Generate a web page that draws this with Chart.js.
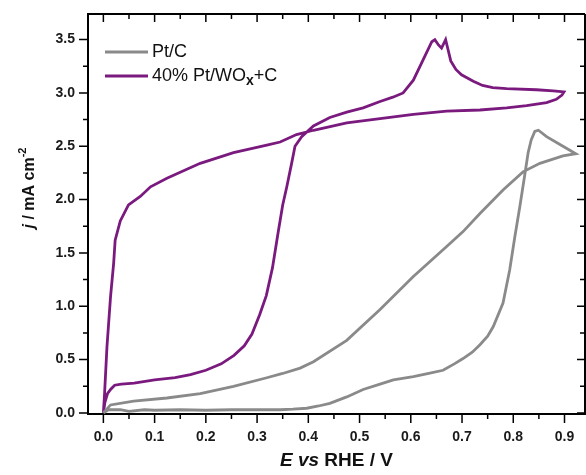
<!DOCTYPE html>
<html>
<head>
<meta charset="utf-8">
<script src="https://cdn.jsdelivr.net/npm/chart.js@4.4.1/dist/chart.umd.min.js"></script>
<style>
  html, body { margin: 0; padding: 0; background: #fff; }
  #wrap { width: 586px; height: 475px; }
</style>
</head>
<body>
<div id="wrap"><canvas id="cv" width="586" height="475"></canvas></div>
<script>
// Pt/C cyclic voltammogram (E vs RHE / V, j / mA cm-2)
const ptcE = [0, 0.01, 0.033, 0.05, 0.08, 0.1, 0.15, 0.2, 0.25, 0.3, 0.345, 0.37, 0.397, 0.42, 0.442, 0.475,
  0.507, 0.54, 0.566, 0.605, 0.635, 0.663, 0.685, 0.702, 0.72, 0.735, 0.75, 0.761, 0.78, 0.793, 0.803, 0.813,
  0.823, 0.829, 0.835, 0.842, 0.849, 0.865, 0.897, 0.922, 0.897, 0.852, 0.819, 0.78, 0.735, 0.702, 0.67, 0.605,
  0.54, 0.475, 0.41, 0.384, 0.35, 0.319, 0.254, 0.189, 0.124, 0.059, 0.014, 0];
const ptcJ = [0, 0.03, 0.03, 0.015, 0.03, 0.025, 0.03, 0.025, 0.03, 0.03, 0.03, 0.035, 0.044, 0.065, 0.09, 0.15,
  0.22, 0.27, 0.31, 0.34, 0.37, 0.40, 0.46, 0.51, 0.57, 0.64, 0.72, 0.81, 1.03, 1.34, 1.65, 1.94,
  2.25, 2.44, 2.56, 2.64, 2.65, 2.59, 2.50, 2.43, 2.41, 2.34, 2.26, 2.09, 1.87, 1.70, 1.56, 1.28,
  0.97, 0.68, 0.48, 0.42, 0.37, 0.33, 0.25, 0.18, 0.14, 0.11, 0.075, 0];

// 40% Pt/WOx+C
const pwE = [0, 0.003, 0.008, 0.014, 0.022, 0.035, 0.06, 0.1, 0.14, 0.17, 0.2, 0.23, 0.255, 0.275, 0.29, 0.305,
  0.318, 0.33, 0.341, 0.35, 0.358, 0.367, 0.374, 0.387, 0.41, 0.442, 0.475, 0.507, 0.54, 0.565, 0.585, 0.605,
  0.624, 0.641, 0.647, 0.654, 0.66, 0.668, 0.673, 0.678, 0.688, 0.699, 0.722, 0.74, 0.76, 0.787, 0.845, 0.878,
  0.899, 0.895, 0.884, 0.865, 0.826, 0.787, 0.735, 0.67, 0.605, 0.54, 0.475, 0.41, 0.377, 0.345, 0.319, 0.254,
  0.189, 0.124, 0.092, 0.072, 0.049, 0.033, 0.023, 0.02, 0.014, 0.007, 0.002, 0];
const pwJ = [0, 0.10, 0.18, 0.22, 0.26, 0.27, 0.28, 0.31, 0.33, 0.36, 0.40, 0.46, 0.54, 0.63, 0.74, 0.92,
  1.10, 1.36, 1.69, 1.95, 2.12, 2.33, 2.50, 2.59, 2.69, 2.77, 2.82, 2.86, 2.92, 2.96, 3.00, 3.12,
  3.31, 3.48, 3.50, 3.45, 3.42, 3.50, 3.40, 3.30, 3.22, 3.17, 3.11, 3.07, 3.05, 3.04, 3.03, 3.02,
  3.01, 2.98, 2.94, 2.91, 2.88, 2.86, 2.84, 2.83, 2.80, 2.76, 2.72, 2.65, 2.61, 2.54, 2.51, 2.44,
  2.34, 2.20, 2.12, 2.03, 1.95, 1.80, 1.62, 1.40, 1.09, 0.62, 0.15, 0];

const xTicks = [0, 0.05, 0.1, 0.15, 0.2, 0.25, 0.3, 0.35, 0.4, 0.45, 0.5, 0.55, 0.6, 0.65, 0.7, 0.75, 0.8, 0.85, 0.9];
const yTicks = [0, 0.25, 0.5, 0.75, 1, 1.25, 1.5, 1.75, 2, 2.25, 2.5, 2.75, 3, 3.25, 3.5];

const FONT = "'Liberation Sans', Arial, sans-serif";
const toPts = (xs, ys) => xs.map((x, i) => ({ x: x, y: ys[i] }));

// frame, mirrored ticks, legend and axis titles
const decor = {
  id: 'decor',
  afterDraw(chart) {
    const ctx = chart.ctx;
    const a = chart.chartArea;
    const xs = chart.scales.x, ys = chart.scales.y;
    ctx.save();
    ctx.strokeStyle = '#000';
    ctx.lineWidth = 2;
    ctx.beginPath();
    ctx.moveTo(a.left, a.top); ctx.lineTo(a.right, a.top);
    ctx.moveTo(a.right, a.top); ctx.lineTo(a.right, a.bottom);
    ctx.stroke();

    ctx.lineWidth = 1.5;
    ctx.beginPath();
    xTicks.forEach((v, i) => {
      const p = xs.getPixelForValue(v);
      const major = i % 2 === 0;
      ctx.moveTo(p, a.bottom); ctx.lineTo(p, a.bottom + (major ? 9 : 5));
      ctx.moveTo(p, a.top); ctx.lineTo(p, a.top + (major ? 8 : 5));
    });
    yTicks.forEach((v, i) => {
      const p = ys.getPixelForValue(v);
      const major = i % 2 === 0;
      ctx.moveTo(a.left, p); ctx.lineTo(a.left - (major ? 9 : 5), p);
      ctx.moveTo(a.right, p); ctx.lineTo(a.right - (major ? 8 : 5), p);
    });
    ctx.stroke();

    // legend
    const ds = chart.data.datasets;
    ctx.textBaseline = 'middle';
    ctx.textAlign = 'left';
    ds.forEach((d, i) => {
      const y = 52 + i * 24;
      ctx.strokeStyle = d.borderColor;
      ctx.lineWidth = 3;
      ctx.beginPath();
      ctx.moveTo(105, y); ctx.lineTo(148, y);
      ctx.stroke();
    });
    ctx.fillStyle = '#111';
    ctx.font = '18px ' + FONT;
    ctx.fillText('Pt/C', 152, 52);
    let tx = 152;
    ctx.fillText('40% Pt/WO', tx, 76);
    tx += ctx.measureText('40% Pt/WO').width;
    ctx.font = 'bold 14px ' + FONT;
    ctx.fillText('x', tx, 81);
    tx += ctx.measureText('x').width;
    ctx.font = '18px ' + FONT;
    ctx.fillText('+C', tx, 76);

    // x title
    const segs = [['E', 'italic bold 19px '], [' ', 'bold 19px '], ['vs', 'italic bold 19px '], [' RHE / V', 'bold 19px ']];
    let w = 0;
    segs.forEach(s => { ctx.font = s[1] + FONT; w += ctx.measureText(s[0]).width; });
    tx = (a.left + a.right) / 2 - w / 2;
    segs.forEach(s => { ctx.font = s[1] + FONT; ctx.fillText(s[0], tx, 461); tx += ctx.measureText(s[0]).width; });

    // y title
    ctx.translate(30, 188);
    ctx.rotate(-Math.PI / 2);
    const ysegs = [['j', 'italic bold 16px ', 0], [' / mA cm', 'bold 16px ', 0], ['-2', 'bold 11px ', -7]];
    w = 0;
    ysegs.forEach(s => { ctx.font = s[1] + FONT; w += ctx.measureText(s[0]).width; });
    tx = -w / 2;
    ysegs.forEach(s => { ctx.font = s[1] + FONT; ctx.fillText(s[0], tx, s[2]); tx += ctx.measureText(s[0]).width; });
    ctx.restore();
  }
};

new Chart(document.getElementById('cv'), {
  type: 'scatter',
  data: {
    datasets: [
      { label: 'Pt/C', data: toPts(ptcE, ptcJ), borderColor: '#8a8a8a', borderWidth: 2.8, showLine: true, pointRadius: 0 },
      { label: '40% Pt/WOx+C', data: toPts(pwE, pwJ), borderColor: '#7b1a7e', borderWidth: 2.8, showLine: true, pointRadius: 0 }
    ]
  },
  options: {
    responsive: false,
    animation: false,
    layout: { padding: { top: 14, right: 1, left: 0, bottom: 0 } },
    plugins: { legend: { display: false }, tooltip: { enabled: false } },
    scales: {
      x: {
        type: 'linear', min: -0.03, max: 0.94,
        afterBuildTicks: s => { s.ticks = xTicks.map(v => ({ value: v })); },
        afterFit: s => { s.height = 61; s.paddingLeft = 0; s.paddingRight = 0; },
        grid: { display: false, drawTicks: false },
        border: { display: true, color: '#000', width: 2 },
        ticks: {
          autoSkip: false, maxRotation: 0, padding: 15, color: '#1a1a1a',
          font: { family: FONT, size: 14, weight: 'bold' },
          callback: (v, i) => i % 2 === 0 ? v.toFixed(1) : ''
        }
      },
      y: {
        type: 'linear', min: -0.01, max: 3.74,
        afterBuildTicks: s => { s.ticks = yTicks.map(v => ({ value: v })); },
        afterFit: s => { s.width = 88; s.paddingTop = 0; s.paddingBottom = 0; },
        grid: { display: false, drawTicks: false },
        border: { display: true, color: '#000', width: 2 },
        ticks: {
          autoSkip: false, padding: 13, color: '#1a1a1a',
          font: { family: FONT, size: 14, weight: 'bold' },
          callback: (v, i) => i % 2 === 0 ? v.toFixed(1) : ''
        }
      }
    }
  },
  plugins: [decor]
});
</script>
</body>
</html>
